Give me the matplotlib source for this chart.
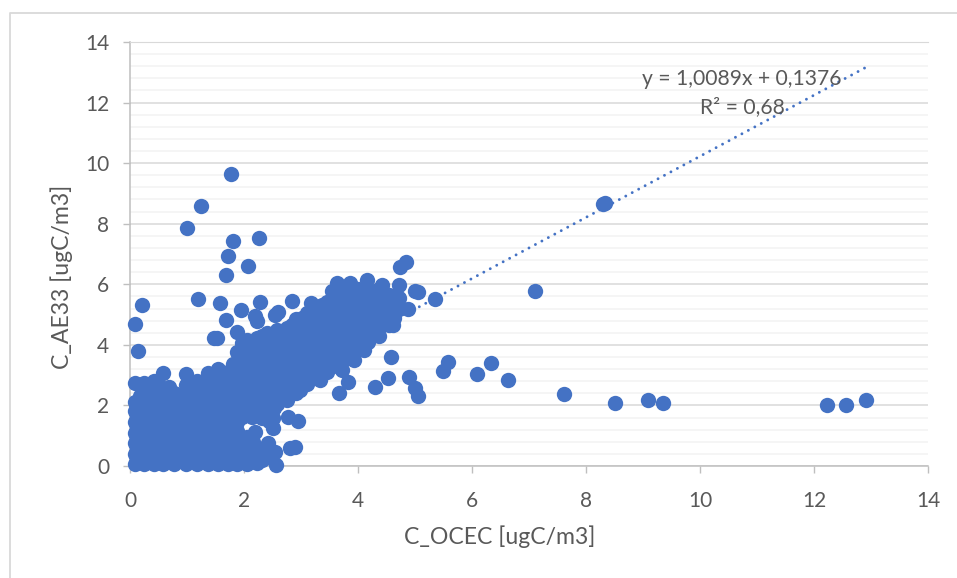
import matplotlib
matplotlib.use("Agg")
import matplotlib.pyplot as plt
from matplotlib.lines import Line2D
from matplotlib.ticker import MultipleLocator

plt.rcParams['font.family'] = ['Lato', 'DejaVu Sans']

x_label = "C_OCEC [ugC/m3]"
y_label = "C_AE33 [ugC/m3]"
equation = "y = 1,0089x + 0,1376"
r_squared = "R² = 0,68"
slope = 1.0089
intercept = 0.1376
trend_range = [1.0, 12.93]
tick_values = [0, 2, 4, 6, 8, 10, 12, 14]

# Points that can be picked out one by one
outlier_x = [0.09, 0.14, 0.21, 1.00, 1.25, 1.77, 1.80, 1.72, 1.69, 2.26, 2.07, 1.19, 1.58, 1.47, 1.52,
             1.69, 1.95, 2.20, 2.22, 2.28, 2.84, 2.60, 2.55, 3.17, 4.84, 4.74, 5.35, 5.00, 5.05, 4.72,
             4.42, 4.15, 3.86, 3.63, 3.54, 4.61, 4.88, 4.58, 4.53, 4.30, 4.90, 5.00, 5.05, 5.58, 5.49,
             3.67, 3.82, 3.72, 3.93, 4.10, 3.33, 2.98, 2.77, 2.95, 2.80, 2.90, 2.57, 2.51, 2.54, 2.42,
             2.20, 6.09, 6.33, 6.63, 7.10, 7.61, 8.30, 8.33, 8.50, 9.09, 9.35, 12.22, 12.56, 12.91,
             2.05, 2.15, 2.30, 2.40, 2.10, 2.25, 2.35, 2.44, 2.44, 2.47, 2.50, 2.52]
outlier_y = [4.69, 3.80, 5.30, 7.85, 8.58, 9.65, 7.43, 6.95, 6.30, 7.52, 6.60, 5.50, 5.38, 4.23, 4.22,
             4.83, 5.15, 4.96, 4.80, 5.40, 5.45, 5.08, 4.97, 5.38, 6.73, 6.58, 5.51, 5.78, 5.76, 5.97,
             5.98, 6.14, 6.05, 6.04, 5.78, 4.66, 5.18, 3.60, 2.92, 2.60, 2.94, 2.57, 2.30, 3.43, 3.14,
             2.41, 2.77, 3.17, 3.50, 3.83, 2.84, 2.50, 1.62, 1.48, 0.60, 0.62, 0.03, 1.25, 0.46, 0.76,
             1.12, 3.03, 3.40, 2.84, 5.77, 2.38, 8.65, 8.70, 2.08, 2.18, 2.07, 2.00, 2.02, 2.18,
             0.95, 0.80, 0.55, 0.45, 0.20, 0.15, 0.25, 1.80, 1.50, 1.55, 1.60, 1.90]

# The solid mass of overlapping points, estimated column by column
dense_columns = [0.09, 0.25, 0.42, 0.58, 0.78, 0.98, 1.18, 1.36, 1.55, 1.72, 1.88, 2.05, 2.22, 2.40,
                 2.58, 2.75, 2.92, 3.10, 3.28, 3.46, 3.64, 3.82, 4.00, 4.18, 4.36, 4.54, 4.72]
dense_values = [
    [0.08, 0.4, 0.75, 1.1, 1.45, 1.8, 2.1, 2.75],
    [0.06, 0.38, 0.72, 1.08, 1.42, 1.76, 2.12, 2.45, 2.75],
    [0.07, 0.42, 0.76, 1.12, 1.46, 1.8, 2.15, 2.5, 2.8],
    [0.05, 0.4, 0.74, 1.1, 1.44, 1.78, 2.14, 2.48, 3.07],
    [0.06, 0.41, 0.75, 1.12, 1.45, 1.8, 2.1, 2.42],
    [0.05, 0.38, 0.72, 1.08, 1.44, 1.78, 2.12, 2.68, 3.03],
    [0.08, 0.42, 0.76, 1.1, 1.46, 1.8, 2.16, 2.5, 2.8],
    [0.06, 0.4, 0.74, 1.09, 1.43, 1.77, 2.12, 2.48, 2.78, 3.07],
    [0.05, 0.39, 0.75, 1.1, 1.44, 1.8, 2.14, 2.5, 2.85, 3.2],
    [0.07, 0.4, 0.72, 1.08, 1.42, 1.76, 2.1, 2.46, 2.8, 3.1],
    [0.06, 0.38, 0.76, 1.14, 1.45, 1.8, 2.14, 2.5, 2.85, 3.2, 3.76, 4.42],
    [0.05, 0.4, 0.72, 1.75, 2.1, 2.45, 2.8, 3.15, 3.5, 3.85, 4.15],
    [0.1, 0.42, 1.82, 2.15, 2.5, 2.85, 3.2, 3.55, 3.9, 4.22],
    [0.3, 1.75, 2.1, 2.45, 2.8, 3.15, 3.5, 3.85, 4.2, 4.4],
    [2.05, 2.4, 2.75, 3.1, 3.45, 3.8, 4.15, 4.5],
    [2.18, 2.5, 2.85, 3.2, 3.55, 3.9, 4.25, 4.55],
    [2.4, 2.75, 3.1, 3.45, 3.8, 4.15, 4.5, 4.85],
    [2.7, 3.05, 3.4, 3.75, 4.1, 4.45, 4.8, 5.05],
    [2.9, 3.2, 3.55, 3.9, 4.25, 4.6, 4.95, 5.2],
    [3.1, 3.4, 3.75, 4.1, 4.45, 4.8, 5.1, 5.4],
    [3.3, 3.6, 3.95, 4.3, 4.65, 5.0, 5.35, 5.65],
    [3.55, 3.85, 4.2, 4.55, 4.9, 5.25, 5.6, 5.85],
    [3.9, 4.2, 4.55, 4.9, 5.25, 5.6, 5.85],
    [4.1, 4.4, 4.75, 5.1, 5.45, 5.8],
    [4.3, 4.6, 4.95, 5.3, 5.65, 5.85],
    [4.65, 4.95, 5.3, 5.65],
    [5.2, 5.55],
]
# More points lying between the columns above
between_columns = [0.13, 0.17, 0.33, 0.50, 0.68, 0.88, 1.08, 1.27, 1.45, 1.63, 1.80, 1.97, 2.14, 2.31,
                   2.49, 2.66, 2.84, 3.01, 3.19, 3.37, 3.55, 3.73, 3.91, 4.09, 4.27, 4.45, 4.63]
between_values = [
    [0.25, 0.58, 0.92, 1.28, 1.62, 1.95],
    [0.22, 0.55, 0.9, 1.25, 1.6, 1.94, 2.3],
    [0.24, 0.57, 0.93, 1.27, 1.6, 1.96, 2.3, 2.62],
    [0.23, 0.56, 0.91, 1.26, 1.62, 1.97, 2.33, 2.65],
    [0.25, 0.58, 0.93, 1.28, 1.62, 1.95, 2.3, 2.62],
    [0.22, 0.56, 0.9, 1.27, 1.6, 1.96, 2.28],
    [0.24, 0.57, 0.92, 1.26, 1.62, 1.97, 2.32, 2.6],
    [0.23, 0.58, 0.93, 1.28, 1.6, 1.95, 2.3, 2.65],
    [0.25, 0.56, 0.91, 1.27, 1.62, 1.96, 2.32, 2.68, 3.0],
    [0.22, 0.57, 0.9, 1.26, 1.6, 1.95, 2.3, 2.66, 3.0],
    [0.24, 0.55, 0.9, 1.25, 1.6, 1.95, 2.3, 2.68, 3.02, 3.38],
    [0.2, 0.56, 0.88, 1.62, 1.95, 2.3, 2.65, 3.0, 3.35, 3.7, 4.05],
    [0.28, 1.62, 1.98, 2.32, 2.68, 3.02, 3.38, 3.72, 4.08],
    [0.2, 1.6, 1.95, 2.3, 2.65, 3.0, 3.35, 3.7, 4.05, 4.3],
    [2.2, 2.55, 2.9, 3.25, 3.6, 3.95, 4.3],
    [2.3, 2.65, 3.0, 3.35, 3.7, 4.05, 4.4],
    [2.55, 2.9, 3.25, 3.6, 3.95, 4.3, 4.65],
    [2.85, 3.2, 3.55, 3.9, 4.25, 4.6, 4.9],
    [3.05, 3.38, 3.72, 4.08, 4.42, 4.78, 5.1],
    [3.25, 3.58, 3.92, 4.28, 4.62, 4.98, 5.3],
    [3.45, 3.78, 4.12, 4.48, 4.82, 5.18, 5.5],
    [3.7, 4.02, 4.38, 4.72, 5.08, 5.42, 5.75],
    [4.05, 4.38, 4.72, 5.08, 5.42, 5.72],
    [4.25, 4.58, 4.92, 5.28, 5.62],
    [4.45, 4.78, 5.12, 5.48, 5.75],
    [4.8, 5.12, 5.48, 5.72],
    [4.9, 5.25, 5.6],
]

blue = "#4472C4"
text_color = "#595959"
px = 1 / 100

fig = plt.figure(figsize=(957 * px, 578 * px), dpi=100, facecolor="white")
# Frame: only the top and left edges show in the crop
fig.add_artist(Line2D([9.5 / 957, 9.5 / 957, 1], [0, 1 - 12.5 / 578, 1 - 12.5 / 578],
                      color="#d9d9d9", linewidth=1.3, transform=fig.transFigure))
ax = fig.add_axes([130 / 957, 1 - 466 / 578, (928 - 130) / 957, (466 - 42) / 578])
ax.set_xlim(0, 14)
ax.set_ylim(0, 14)
ax.set_xticks(tick_values)
ax.set_yticks(tick_values)
ax.yaxis.set_minor_locator(MultipleLocator(0.4))
ax.grid(True, which="major", axis="y", color="#d9d9d9", linewidth=1.1, zorder=1)
ax.grid(True, which="minor", axis="y", color="#f2f2f2", linewidth=1.1, zorder=0)
ax.set_axisbelow(True)
for side in ("left", "bottom"):
    ax.spines[side].set_color("#bfbfbf")
    ax.spines[side].set_linewidth(1.1)
ax.spines["right"].set_visible(False)
ax.spines["top"].set_color("#d9d9d9")
ax.tick_params(which="major", length=5, width=1.0, color="#bfbfbf", labelsize=15,
               labelcolor=text_color)
ax.tick_params(axis="y", which="major", pad=10)
ax.tick_params(axis="x", which="major", pad=13)
ax.tick_params(which="minor", length=0)

dense_x = [c for c, col in zip(dense_columns, dense_values) for _ in col]
dense_y = [v for col in dense_values for v in col]
between_x = [c for c, col in zip(between_columns, between_values) for _ in col]
between_y = [v for col in between_values for v in col]
ax.scatter(dense_x + between_x + outlier_x, dense_y + between_y + outlier_y, s=122, color=blue,
           linewidths=0, zorder=3, clip_on=False)

ax.plot(trend_range, [slope * v + intercept for v in trend_range], color=blue, lw=2.1,
        dashes=(0.01, 2.5), dash_capstyle="round", zorder=4)

ax.text(10.74, 12.78, equation, fontsize=15.2, color=text_color, ha="center", va="center", zorder=5)
ax.text(10.75, 11.85, r_squared, fontsize=15.2, color=text_color, ha="center", va="center", zorder=5)
ax.text(500 / 957, 1 - 537 / 578, x_label, fontsize=16.6, color=text_color, ha="center", va="center",
        transform=fig.transFigure)
ax.text(62 / 957, 1 - 277 / 578, y_label, fontsize=16.6, color=text_color, ha="center", va="center",
        rotation=90, transform=fig.transFigure)

fig.savefig("out.png", dpi=100)
